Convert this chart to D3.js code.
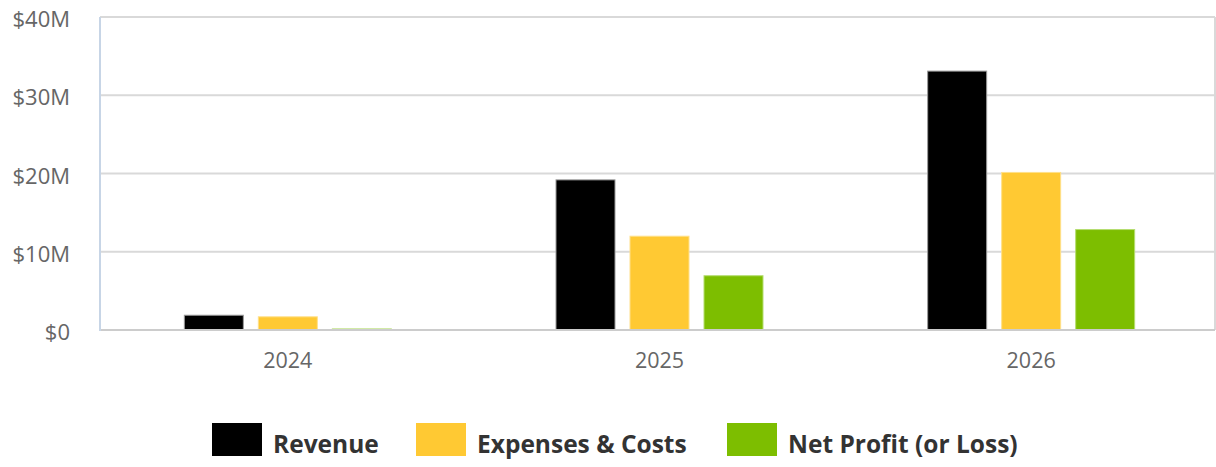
<!DOCTYPE html>
<html>
<head>
<meta charset="utf-8">
<script src="https://cdn.jsdelivr.net/npm/d3@7"></script>
<style>
  html, body { margin: 0; padding: 0; background: #fff; }
  svg { display: block; font-family: "Open Sans", sans-serif; }
</style>
</head>
<body>
<svg id="chart" width="1216" height="467"></svg>
<script>
// Yearly financial projections (in millions of dollars)
const years = ["2024", "2025", "2026"];
const seriesNames = ["Revenue", "Expenses & Costs", "Net Profit (or Loss)"];
const revenue = [1.95, 19.25, 33.15];
const expenses = [1.75, 12.05, 20.2];
const netProfit = [0.2, 7.0, 12.9];
const yTicks = [0, 10, 20, 30, 40];
const colors = ["#000000", "#ffc933", "#7dbe00"];
const strokes = ["#9a9a9a", "#ffe08a", "#b5dd70"];

const values = [revenue, expenses, netProfit];
const FONT = "'Open Sans', sans-serif";
const svg = d3.select("#chart");
const margin = { left: 100, right: 1, top: 17, bottom: 137 };
const W = 1216, H = 467;
const x0 = margin.left, x1 = W - margin.right;
const yTop = margin.top, yBot = H - margin.bottom;

const x = d3.scaleBand().domain(years).range([x0, x1]).paddingInner(0).paddingOuter(0);
const y = d3.scaleLinear().domain([0, 40]).range([yBot, yTop]);
const barW = 60, barStep = 74;

// horizontal gridlines
svg.append("g").selectAll("line").data(yTicks).join("line")
  .attr("x1", x0).attr("x2", x1)
  .attr("y1", d => y(d)).attr("y2", d => y(d))
  .attr("stroke", "#d9d9d9").attr("stroke-width", 2);

// right border
svg.append("line").attr("x1", x1).attr("x2", x1).attr("y1", yTop).attr("y2", yBot)
  .attr("stroke", "#d9d9d9").attr("stroke-width", 2);

// y axis labels
const yAxis = d3.axisLeft(y).tickValues(yTicks).tickSize(0).tickPadding(0)
  .tickFormat(d => "$" + d + (d === 0 ? "" : "M"));
const gy = svg.append("g").attr("transform", `translate(${x0 - 30},2)`).call(yAxis)
  .attr("font-family", FONT);
gy.select(".domain").remove();
gy.selectAll("text").attr("fill", "#666").attr("font-size", 22).attr("dy", "0.35em");

// bars
years.forEach((yr, i) => {
  const cx = x(yr) + x.bandwidth() / 2 + 2;
  const g = svg.append("g");
  g.selectAll("rect").data(values.map((v, s) => ({ v: v[i], s }))).join("rect")
    .attr("x", d => cx + (d.s - 1) * barStep - barW / 2 + 0.5)
    .attr("y", d => y(d.v) + 0.5)
    .attr("width", barW - 1)
    .attr("height", d => Math.max(0, yBot - y(d.v) - 1))
    .attr("fill", d => colors[d.s])
    .attr("stroke", d => strokes[d.s]).attr("stroke-width", 1);
});

// baseline and left axis line
svg.append("line").attr("x1", x0).attr("x2", x1).attr("y1", yBot).attr("y2", yBot)
  .attr("stroke", "#cccccc").attr("stroke-width", 2);
svg.append("line").attr("x1", x0).attr("x2", x0).attr("y1", yTop).attr("y2", yBot + 1)
  .attr("stroke", "#c7d5e6").attr("stroke-width", 2);

// x axis labels
const xAxis = d3.axisBottom(x).tickSize(0).tickPadding(0);
const gx = svg.append("g").attr("transform", `translate(2,${yBot + 30})`).call(xAxis)
  .attr("font-family", FONT);
gx.select(".domain").remove();
gx.selectAll("text").attr("fill", "#666").attr("font-size", 21.5).attr("dy", "0.35em");

// legend
const legendX = [212, 416, 727];
const lg = svg.append("g").attr("font-family", FONT);
seriesNames.forEach((name, i) => {
  lg.append("rect").attr("x", legendX[i]).attr("y", 423).attr("width", 50).attr("height", 33)
    .attr("fill", colors[i]);
  lg.append("text").attr("x", legendX[i] + 61).attr("y", 453)
    .attr("font-size", 24.5).attr("font-weight", 700).attr("fill", "#333")
    .text(name);
});
</script>
</body>
</html>
